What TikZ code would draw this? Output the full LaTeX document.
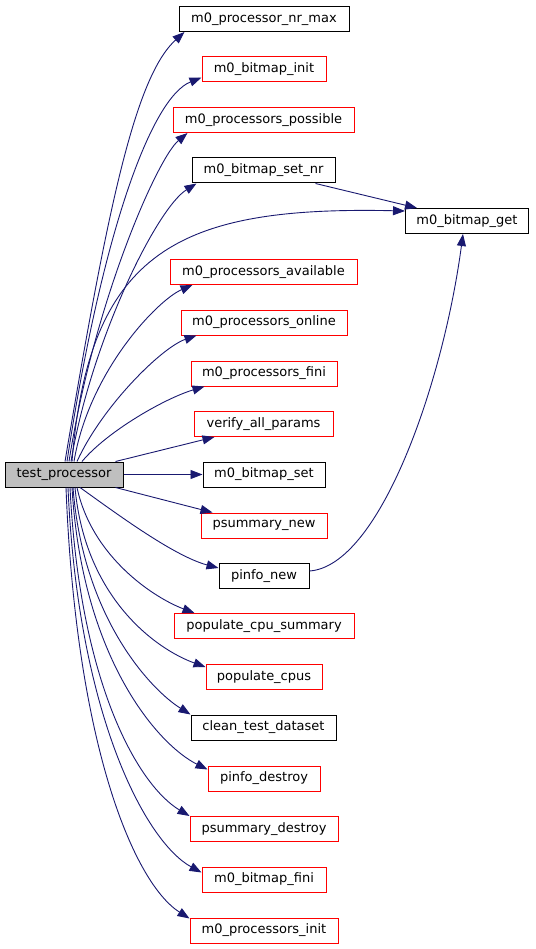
\documentclass[tikz,border=0pt]{standalone}
\usepackage{fontspec}
\setmainfont{DejaVu Sans}
\usetikzlibrary{arrows.meta}
\definecolor{edgeblue}{HTML}{191970}
\definecolor{tpfill}{HTML}{BFBFBF}
\newcommand{\fnt}{\fontsize{13}{15}\selectfont}
\tikzset{
  fn/.style={draw=black, line width=1pt, fill=white, minimum height=25pt, inner sep=0pt, font=\fnt},
  rfn/.style={fn, draw=red},
  e/.style={draw=edgeblue, line width=0.9pt, -{Triangle[length=12pt,width=9pt]}}
}
\begin{document}
\begin{tikzpicture}[x=1pt,y=-1pt]
\useasboundingbox (0,0) rectangle (535,949);
% nodes
\node[fn, fill=tpfill, minimum width=118pt] (tp) at (64,474.5) {test\_processor};
\node[fn, minimum width=170pt] (nrmax) at (264,19) {m0\_processor\_nr\_max};
\node[rfn, minimum width=124pt] (binit) at (264,69.5) {m0\_bitmap\_init};
\node[rfn, minimum width=181pt] (possible) at (263.5,120) {m0\_processors\_possible};
\node[fn, minimum width=143pt] (setnr) at (263.5,170.5) {m0\_bitmap\_set\_nr};
\node[fn, minimum width=123pt] (get) at (467,221) {m0\_bitmap\_get};
\node[rfn, minimum width=187pt] (avail) at (263.5,272) {m0\_processors\_available};
\node[rfn, minimum width=166pt] (online) at (264,322.5) {m0\_processors\_online};
\node[rfn, minimum width=146pt] (pfini) at (264,373.5) {m0\_processors\_fini};
\node[rfn, minimum width=139pt] (verify) at (263.5,424) {verify\_all\_params};
\node[fn, minimum width=122pt] (bset) at (264,474.5) {m0\_bitmap\_set};
\node[rfn, minimum width=126pt] (psnew) at (264,525.5) {psummary\_new};
\node[fn, minimum width=90pt] (pnew) at (264,576) {pinfo\_new};
\node[rfn, minimum width=180pt] (pcs) at (264,626) {populate\_cpu\_summary};
\node[rfn, minimum width=116pt] (pcpus) at (264,677) {populate\_cpus};
\node[fn, minimum width=145pt] (clean) at (263.5,727.5) {clean\_test\_dataset};
\node[rfn, minimum width=112pt] (pdestroy) at (264,778.5) {pinfo\_destroy};
\node[rfn, minimum width=148pt] (psdestroy) at (264,829) {psummary\_destroy};
\node[rfn, minimum width=124pt] (bfini) at (264,879.5) {m0\_bitmap\_fini};
\node[rfn, minimum width=148pt] (pinit) at (264,930.5) {m0\_processors\_init};
% edges upward
\draw[e] ([xshift=1pt]tp.north) .. controls +(42,-250) and +(-50,45) .. ([xshift=6pt]nrmax.south west);
\draw[e] ([xshift=3pt]tp.north) .. controls +(35,-230) and +(-50,20) .. ([yshift=5pt]binit.south west);
\draw[e] ([xshift=5pt]tp.north) .. controls +(25,-160) and +(-30,25) .. ([xshift=15pt]possible.south west);
\draw[e] ([xshift=7pt]tp.north) .. controls +(20,-120) and +(-40,25) .. ([xshift=5pt]setnr.south west);
\draw[e] ([xshift=8pt]tp.north) .. controls +(17,-212) and +(-225,-5) .. ([yshift=10pt]get.west);
\draw[e] ([xshift=10pt]tp.north) .. controls +(15,-90) and +(-35,15) .. ([xshift=23pt]avail.south west);
\draw[e] ([xshift=13pt]tp.north) .. controls +(25,-55) and +(-35,12) .. ([xshift=16pt]online.south west);
\draw[e] ([xshift=18pt]tp.north) .. controls +(25,-30) and +(-40,12) .. ([xshift=14pt]pfini.south west);
\draw[e] ([xshift=-8pt]tp.north east) -- ([xshift=21pt]verify.south west);
\draw[e] (tp.east) -- (bset.west);
% edges downward
\draw[e] ([xshift=-8pt]tp.south east) -- ([xshift=12pt]psnew.north west);
\draw[e] ([xshift=16pt]tp.south) .. controls +(35,25) and +(-45,-12) .. ([yshift=8pt]pnew.west);
\draw[e] ([xshift=13pt]tp.south) .. controls +(15,70) and +(-40,-15) .. ([xshift=21pt]pcs.north west);
\draw[e] ([xshift=11pt]tp.south) .. controls +(10,110) and +(-50,-18) .. ([yshift=-3pt]pcpus.north west);
\draw[e] ([xshift=9pt]tp.south) .. controls +(10,130) and +(-40,-25) .. (clean.north west);
\draw[e] ([xshift=8pt]tp.south) .. controls +(10,170) and +(-50,-25) .. ([yshift=-4pt]pdestroy.north west);
\draw[e] ([xshift=6pt]tp.south) .. controls +(10,200) and +(-50,-30) .. (psdestroy.north west);
\draw[e] ([xshift=4pt]tp.south) .. controls +(10,230) and +(-55,-30) .. ([yshift=-6pt]bfini.north west);
\draw[e] ([xshift=2pt]tp.south) .. controls +(10,260) and +(-55,-35) .. ([yshift=-1pt]pinit.north west);
% edges to m0_bitmap_get
\draw[e] ([xshift=-20pt]setnr.south east) -- ([xshift=12pt]get.north west);
\draw[e] ([yshift=5pt]pnew.east) .. controls +(70,-5) and +(-20,150) .. ([xshift=-4pt]get.south);
\end{tikzpicture}
\end{document}
